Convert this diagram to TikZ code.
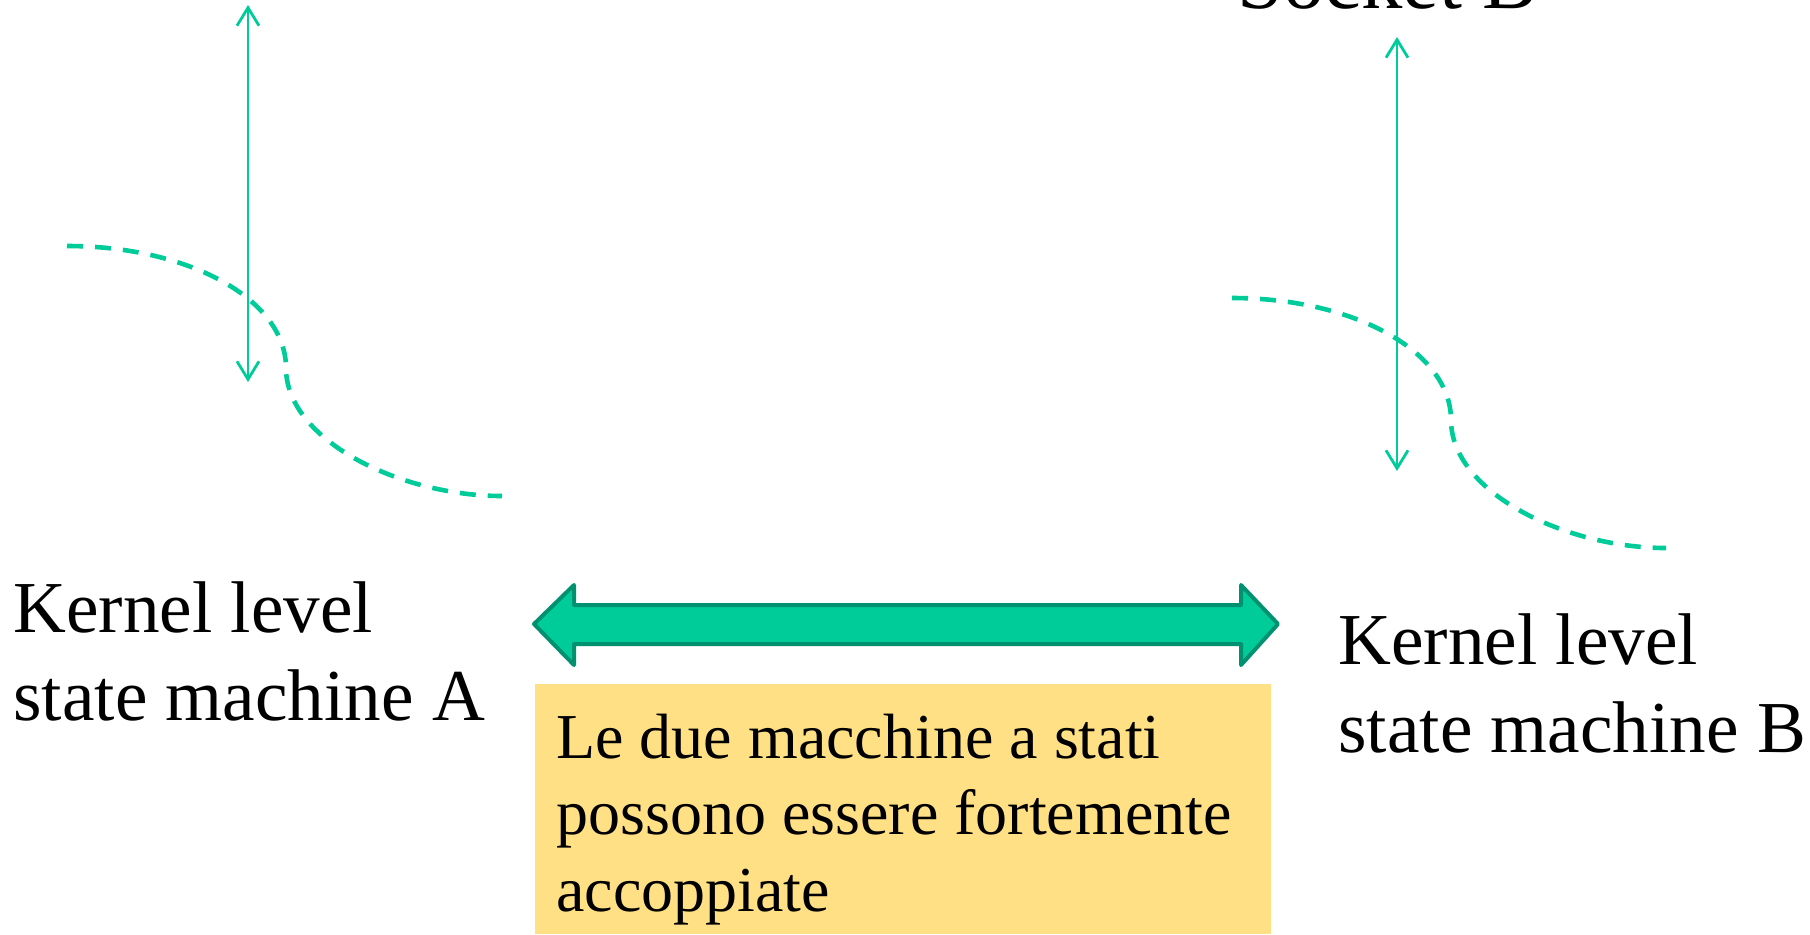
\documentclass[tikz,border=0pt]{standalone}
\usepackage{fontspec}
\setmainfont{Liberation Serif}
\usetikzlibrary{arrows.meta}
\definecolor{lgreen}{HTML}{00CC99}
\definecolor{dgreen}{HTML}{009270}
\definecolor{noteyellow}{HTML}{FFE084}
\tikzset{
  vlink/.style={draw=lgreen, line width=1.4pt, {Straight Barb[length=9pt,width=11pt]}-{Straight Barb[length=9pt,width=11pt]}},
  dashcurve/.style={draw=lgreen, line width=2.3pt, dash pattern=on 8pt off 6pt},
  bigarrow/.style={fill=lgreen, draw=dgreen, line width=2pt, line join=round},
  biglabel/.style={anchor=north west, inner sep=0pt, align=left, font=\fontsize{36.6pt}{44pt}\selectfont},
  sockettext/.style={anchor=base west, inner sep=0pt, font=\fontsize{41.3pt}{49pt}\selectfont},
  notebox/.style={anchor=north west, fill=noteyellow, inner sep=0pt, minimum width=368pt, minimum height=125pt},
  notetext/.style={anchor=north west, inner sep=0pt, align=left, font=\fontsize{32pt}{38.25pt}\selectfont},
}
\begin{document}
\begin{tikzpicture}[x=0.5pt, y=-0.5pt]
\useasboundingbox (0,0) rectangle (1810,934);
% socket label (cropped at top)
\node[sockettext] (sockB) at (1237,8) {Socket B};
% vertical arrows
\coordinate (aTop) at (248,5);
\coordinate (aBot) at (248,382);
\coordinate (bTop) at (1397,37);
\coordinate (bBot) at (1397,471);
\draw[vlink] (aTop) -- (aBot);
\draw[vlink] (bTop) -- (bBot);
% dashed curves
\coordinate (cA0) at (67,246);
\coordinate (cA1) at (286,368);
\coordinate (cA2) at (502,496);
\draw[dashcurve] (cA0) .. controls (190,246) and (286,300) .. (cA1)
  .. controls (286,440) and (400,496) .. (cA2);
\coordinate (cB0) at (1232,298);
\coordinate (cB1) at (1451,420);
\coordinate (cB2) at (1666,548);
\draw[dashcurve] (cB0) .. controls (1355,298) and (1451,352) .. (cB1)
  .. controls (1451,492) and (1565,548) .. (cB2);
% labels
\node[biglabel] (kA) at (13,580.8) {Kernel level\\state machine A};
\node[biglabel] (kB) at (1338,612.8) {Kernel level\\state machine B};
% big double arrow
\coordinate (tipL) at (534,624);
\coordinate (tipR) at (1278,624);
\draw[bigarrow] (tipL) -- (574,585) -- (574,605) -- (1241,605) -- (1241,585) -- (tipR)
  -- (1241,665) -- (1241,644) -- (574,644) -- (574,665) -- cycle;
% note
\node[notebox] (note) at (535,684) {};
\node[notetext] (notetxt) at (556,713.3) {Le due macchine a stati\\possono essere fortemente\\accoppiate};
\end{tikzpicture}
\end{document}
